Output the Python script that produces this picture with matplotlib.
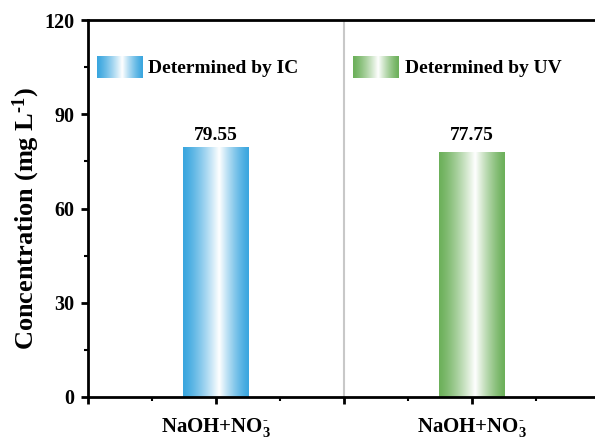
import numpy as np
import matplotlib
matplotlib.use("Agg")
import matplotlib.pyplot as plt
from matplotlib.colors import to_rgb
from matplotlib.ticker import MultipleLocator

plt.rcParams['font.family'] = ['Liberation Serif', 'DejaVu Serif']
plt.rcParams['font.weight'] = 'bold'
plt.rcParams['mathtext.fontset'] = 'custom'
plt.rcParams['mathtext.rm'] = 'Liberation Serif:bold'
plt.rcParams['mathtext.it'] = 'Liberation Serif:bold'
plt.rcParams['mathtext.bf'] = 'Liberation Serif:bold'

# data
categories = [r'NaOH+NO$_3^{\text{-}}$', r'NaOH+NO$_3^{\text{-}}$']
methods = ['Determined by IC', 'Determined by UV']
values = [79.55, 77.75]
colors = ['#3aa6df', '#6cb05a']
positions = [1, 3]


def gradient_img(color, n=200, peak=0.55):
    # edge colour -> white -> edge colour across the bar width
    t = np.linspace(0, 1, n)
    d = np.where(t < peak, (peak - t) / peak, (t - peak) / (1 - peak))
    f = (1 - d) ** 1.3
    c = np.array(to_rgb(color))
    rgb = c[None, :] + (1 - c[None, :]) * f[:, None]
    return rgb[None, :, :]


fig = plt.figure(figsize=(5.95, 4.38), dpi=100)
ax = fig.add_axes([88 / 595, 41 / 438, 1 - 88 / 595, 377 / 438])

width = 0.51
for x, v, c in zip(positions, values, colors):
    ax.bar(x, v, width=width, color='none', edgecolor='none')
    ax.imshow(gradient_img(c), extent=[x - width / 2, x + width / 2, 0, v],
              aspect='auto', interpolation='bilinear', zorder=2)
    ax.text(x, 83.2, f'{v:.2f}', ha='center', va='center', fontsize=14,
            fontweight='bold')

# divider between the two groups
ax.axvline(2, color='#c8c8c8', lw=1.5, zorder=1)

# legend swatches with the same gradient
leg_x = [0.0175, 0.5235]
for lx, c, lab in zip(leg_x, colors, methods):
    ax.imshow(gradient_img(c), extent=[lx, lx + 0.09, 0.845, 0.903],
              transform=ax.transAxes, aspect='auto', interpolation='bilinear',
              zorder=3)
    ax.text(lx + 0.101, 0.871, lab, transform=ax.transAxes, ha='left',
            va='center', fontsize=14, fontweight='bold')

ax.set_xlim(0, 507 / 128)
ax.set_ylim(0, 120)
ax.set_xticks([0, 1, 2, 3])
ax.set_xticklabels(['', categories[0], '', categories[1]])
ax.xaxis.set_minor_locator(MultipleLocator(0.5))
ax.yaxis.set_major_locator(MultipleLocator(30))
ax.yaxis.set_minor_locator(MultipleLocator(15))

for side in ['left', 'bottom', 'top']:
    ax.spines[side].set_linewidth(2)
ax.spines['right'].set_visible(False)
ax.tick_params(which='major', direction='out', length=5, width=2,
               labelsize=14.5, pad=5)
ax.tick_params(which='minor', direction='out', length=3, width=1.5)
ax.tick_params(axis='x', which='major', labelsize=15, pad=9)

ax.set_ylabel(r'Concentration (mg L$^{\text{-}1}$)', fontsize=19,
              fontweight='bold')
ax.yaxis.set_label_coords(-0.091, 0.475)

fig.savefig('out.png', dpi=100)
